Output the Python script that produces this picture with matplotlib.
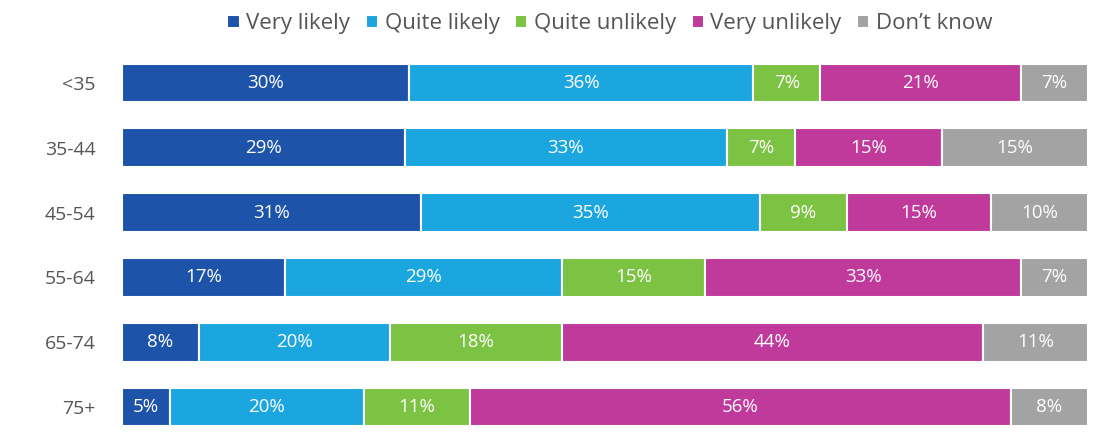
import matplotlib.pyplot as plt
import numpy as np

# Age groups and answers (percent)
groups = ['<35', '35-44', '45-54', '55-64', '65-74', '75+']
categories = ['Very likely', 'Quite likely', 'Quite unlikely', 'Very unlikely', 'Don\u2019t know']
very_likely = [30, 29, 31, 17, 8, 5]
quite_likely = [36, 33, 35, 29, 20, 20]
quite_unlikely = [7, 7, 9, 15, 18, 11]
very_unlikely = [21, 15, 15, 33, 44, 56]
dont_know = [7, 15, 10, 7, 11, 8]
colors = ['#1d53a8', '#1ba6e0', '#7cc243', '#c03a9b', '#a3a3a3']

plt.rcParams['font.family'] = ['Open Sans', 'DejaVu Sans']

series = np.array([very_likely, quite_likely, quite_unlikely, very_unlikely, dont_know], dtype=float)
totals = series.sum(axis=0)
shares = series / totals * 100  # stretch each row to the full width

fig = plt.figure(figsize=(11.03, 4.32), dpi=100)
ax = fig.add_axes([122 / 1103, 0, 966 / 1103, 381.4 / 432])
y = np.arange(len(groups))
left = np.zeros(len(groups))
for i, name in enumerate(categories):
    ax.barh(y, shares[i], left=left, height=0.6, color=colors[i],
            edgecolor='white', linewidth=1.5, label=name)
    for j in range(len(groups)):
        ax.text(left[j] + shares[i][j] / 2, y[j], f'{int(series[i][j])}%',
                ha='center', va='center', color='white', fontsize=13.5)
    left += shares[i]

ax.set_xlim(0, 100)
ax.set_ylim(5.386, -0.5)
ax.set_yticks(y)
ax.set_yticklabels(groups, fontsize=14, color='#555555')
ax.tick_params(axis='y', length=0, pad=19)
ax.set_xticks([])
for s in ax.spines.values():
    s.set_visible(False)

fig.legend(loc='center', bbox_to_anchor=(0.553, 0.945), ncol=5, frameon=False,
           fontsize=16, handlelength=0.55, handleheight=0.55, handletextpad=0.3,
           columnspacing=0.7, labelcolor='#555555')

fig.savefig('out.png', dpi=100)
